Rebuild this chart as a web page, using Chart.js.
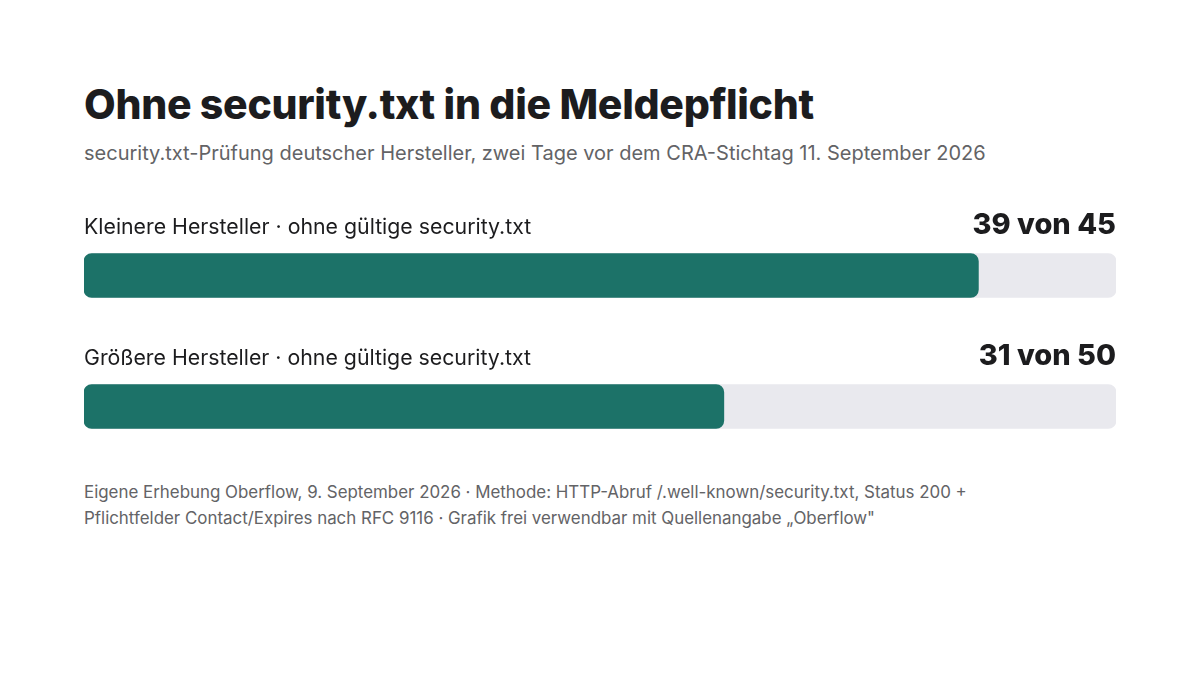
<!DOCTYPE html>
<html lang="de">
<head>
<meta charset="utf-8">
<script src="https://cdn.jsdelivr.net/npm/chart.js@4"></script>
<style>
	html, body { margin: 0; padding: 0; background: #fff; }
	body { width: 1200px; height: 675px; position: relative; font-family: Inter, "Noto Sans", sans-serif; color: #1c1c1e; overflow: hidden; }
	h1 { position: absolute; left: 84px; top: 78px; margin: 0; font-size: 41px; font-weight: 800; letter-spacing: -0.3px; line-height: 52px; }
	.sub { position: absolute; left: 84px; top: 140px; margin: 0; font-size: 20px; color: #636366; line-height: 26px; }
	.wrap { position: absolute; left: 84px; top: 184px; width: 1032px; height: 288px; }
	.foot { position: absolute; left: 84px; top: 479px; margin: 0; font-size: 16.9px; color: #636366; line-height: 26px; }
</style>
</head>
<body>
<h1>Ohne security.txt in die Meldepflicht</h1>
<p class="sub">security.txt-Prüfung deutscher Hersteller, zwei Tage vor dem CRA-Stichtag 11. September 2026</p>
<div class="wrap"><canvas id="bars"></canvas></div>
<p class="foot">Eigene Erhebung Oberflow, 9. September 2026 · Methode: HTTP-Abruf /.well-known/security.txt, Status 200 +<br>Pflichtfelder Contact/Expires nach RFC 9116 · Grafik frei verwendbar mit Quellenangabe „Oberflow"</p>

<script>
// data
const groups = ["Kleinere Hersteller", "Größere Hersteller"]
const missing = [39, 31]
const totals = [45, 50]
const labelSuffix = " · ohne gültige security.txt"

// colours
const fillColor = "#1c7268"
const trackColor = "#e9e9ee"

const shares = missing.map((v, i) => v / totals[i])
const full = totals.map(() => 1)

// draws label left and "x von y" right above each bar
const barLabels = {
	id: "barLabels",
	afterDatasetsDraw(chart) {
		const ctx = chart.ctx
		const meta = chart.getDatasetMeta(0)
		const left = chart.chartArea.left
		const right = chart.chartArea.right
		ctx.save()
		ctx.textBaseline = "middle"
		meta.data.forEach((bar, i) => {
			const top = bar.y - bar.height / 2
			ctx.fillStyle = "#1c1c1e"
			ctx.font = "400 21.3px Inter"
			ctx.textAlign = "left"
			ctx.fillText(groups[i] + labelSuffix, left, top - 26)
			ctx.font = "800 29px Inter"
			ctx.textAlign = "right"
			ctx.fillText(`${missing[i]} von ${totals[i]}`, right, top - 28)
		})
		ctx.restore()
	},
}

new Chart(document.querySelector("#bars"), {
	type: "bar",
	data: {
		labels: groups,
		datasets: [
			{
				label: "ohne security.txt",
				data: shares,
				backgroundColor: fillColor,
				borderRadius: 8,
				borderSkipped: false,
				barThickness: 44,
				grouped: false,
				order: 0,
			},
			{
				label: "gesamt",
				data: full,
				backgroundColor: trackColor,
				borderRadius: 8,
				borderSkipped: false,
				barThickness: 44,
				grouped: false,
				order: 1,
			},
		],
	},
	options: {
		indexAxis: "y",
		responsive: true,
		maintainAspectRatio: false,
		animation: false,
		layout: { padding: { top: 26, left: 0, right: 0, bottom: 0 } },
		plugins: {
			legend: { display: false },
			tooltip: { enabled: false },
		},
		scales: {
			x: { display: false, min: 0, max: 1 },
			y: { display: false },
		},
	},
	plugins: [barLabels],
})
</script>
</body>
</html>
